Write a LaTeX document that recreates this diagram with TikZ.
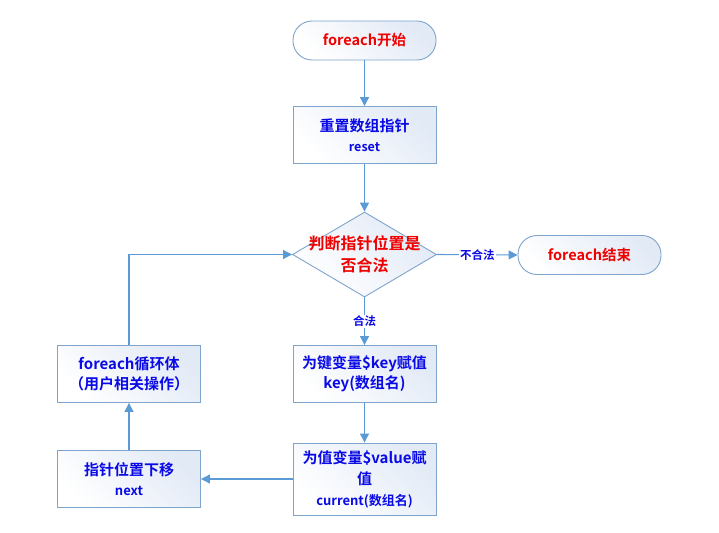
\documentclass[tikz,border=0pt]{standalone}
\usepackage{fontspec}
\setmainfont{Noto Sans CJK SC Bold}
\usetikzlibrary{shapes.geometric,arrows.meta}
\definecolor{edgeblue}{RGB}{91,155,213}
\definecolor{boxline}{RGB}{126,164,204}
\definecolor{boxfill}{RGB}{226,234,246}
\definecolor{txtblue}{RGB}{10,10,230}
\definecolor{txtred}{RGB}{240,0,0}
\tikzset{
  x=1pt,y=-1pt,
  boxbase/.style={draw=boxline,line width=0.9pt,top color=boxfill,bottom color=white,shading angle=-45,inner sep=2pt,align=center},
  stepbox/.style={boxbase,rectangle,minimum width=143pt,minimum height=57pt,text=txtblue,font=\fontsize{15}{20}\selectfont},
  termbox/.style={boxbase,rectangle,rounded corners=19pt,minimum width=143pt,minimum height=39pt,text=txtred,font=\fontsize{14.5}{17}\selectfont},
  decbox/.style={boxbase,diamond,minimum width=144pt,minimum height=85pt,inner sep=0pt},
  conn/.style={draw=edgeblue,line width=1.1pt,-{Triangle[length=9pt,width=9pt]}},
  lbl/.style={fill=white,inner sep=1pt,text=txtblue,font=\fontsize{11.5}{13}\selectfont}
}
\begin{document}
\begin{tikzpicture}
\useasboundingbox (0,0) rectangle (719,532);
\node[termbox] (start) at (364.5,40.5) {foreach开始};
\node[stepbox] (reset) at (364.5,135) {重置数组指针\\{\fontsize{12.5}{17}\selectfont reset}};
\node[decbox] (dec) at (364.5,254.5) {};
\node[text=txtred,font=\fontsize{16}{22}\selectfont,align=center] (dectext) at (364.5,254) {判断指针位置是\\否合法};
\node[termbox] (end) at (589.5,255) {foreach结束};
\node[stepbox] (key) at (364.5,374) {为键变量\$key赋值\\key(数组名)};
\node[stepbox,minimum height=72pt,font=\fontsize{15}{21}\selectfont] (value) at (364.5,479) {为值变量\$value赋\\值\\{\fontsize{13}{17}\selectfont current(数组名)}};
\node[stepbox] (next) at (129,479) {指针位置下移\\{\fontsize{13}{18}\selectfont next}};
\node[stepbox] (body) at (129,374) {foreach循环体\\（用户相关操作）};
\draw[conn] (start) -- (reset);
\draw[conn] (reset) -- (dec.north);
\draw[conn] (dec.east) -- node[lbl] (lno) {不合法} (end.west);
\draw[conn] (dec.south) -- node[lbl] (lyes) {合法} (key.north);
\draw[conn] (key) -- (value);
\draw[conn] (value.west) -- (next.east);
\draw[conn] (next) -- (body);
\draw[conn] (body.north) |- (dec.west);
\end{tikzpicture}
\end{document}
